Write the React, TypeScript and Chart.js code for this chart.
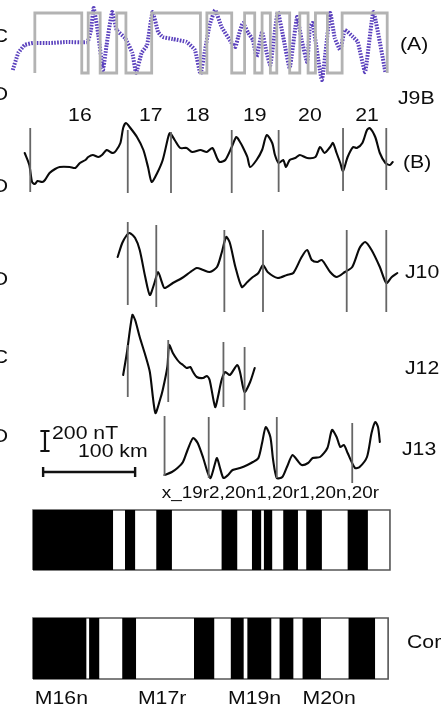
import React, { useEffect, useRef } from 'react';
import { Chart, registerables } from 'chart.js';
Chart.register(...registerables);

// ---- distances along the profiles are in km, anomalies in nT ----

// (A) synthetic anomaly of the reversal model
const synthKm = [-22,-16,-9,0,18,37,59,63,66,71,76,80,86,91,100,108,112,118,124,130,136,141,152,167,176,182,187,192,198,205,216,220,223,228,234,239,243,249,254,258,266,272,279,287,292,298,301,304,314,323,328,334,339,348,353,361,370,383];
const synthNT = [-270,-100,-20,0,0,10,10,130,350,80,-270,-20,310,130,50,-100,-300,-100,-20,310,110,60,40,10,-70,-310,-70,180,330,160,0,-40,60,200,100,30,-140,110,-100,-220,310,60,-250,260,30,-190,160,200,-370,300,50,-70,130,60,10,-290,310,-290];
// reversal boundaries of the model square wave (starts reversed)
const modelReversalKm = [2,53,60,73,91,101,129,182,189,216,230,241,249,258,265,279,290,299,307,320,336,385];

// (B) J9B
const j9bKm = [-9,-4,-1,2,5,10,13,18,24,29,40,46,51,57,60,65,71,75,80,84,87,90,95,98,101,105,113,120,125,129,135,141,147,149,154,160,167,173,182,189,195,200,203,209,216,221,225,228,233,236,243,249,254,260,263,267,272,275,279,285,290,298,307,312,317,323,326,330,334,337,342,348,352,358,363,366,372,377,383,388,391];
const j9bNT = [70,-50,-220,-240,-210,-220,-200,-130,-90,-70,-70,-80,-30,0,30,50,30,50,100,80,70,90,170,320,370,330,230,100,-70,-220,-130,0,230,270,200,120,120,80,100,80,120,20,-20,0,130,230,180,130,30,-70,0,100,250,170,50,-30,0,-70,0,20,50,20,30,130,70,130,170,70,-30,-110,30,130,120,170,300,320,230,70,-30,-50,-20];
const j9bPickKm = [-3,103,150,216,267,337,384];
const j9bPickTop = [320,300,280,300,300,320,320];
const j9bPickBottom = [-320,-330,-330,-330,-320,-310,-300];

// J10
const j10Km = [92,97,102,105,111,116,122,127,132,136,140,143,152,162,171,178,185,192,200,205,210,214,220,227,233,239,245,250,255,266,276,283,292,298,303,309,314,323,330,339,347,355,361,368,377,384,390,396];
const j10NT = [130,270,350,370,320,200,-70,-250,-130,-20,-120,-180,-130,-80,-20,20,0,-20,30,170,330,270,30,-170,-120,-70,-30,50,-20,-80,-50,-30,130,200,100,80,100,-20,-70,-20,30,220,280,200,30,-130,-70,-30];
const j10PickKm = [103,134,208,250,341,384];
const j10PickTop = [480,450,400,400,400,400];
const j10PickBottom = [-350,-370,-420,-420,-420,-420];

// J12
const j12Km = [98,102,108,111,116,122,127,133,138,141,146,148,152,157,160,163,167,171,174,178,185,189,192,198,201,205,209,214,222,225,230,236,241];
const j12NT = [-50,170,550,500,330,150,-20,-430,-300,-200,30,250,170,100,70,50,20,30,-20,-70,-80,-60,-100,-370,-270,-100,-20,-50,50,-20,-220,-120,20];
const j12PickKm = [103,147,207,230];
const j12PickTop = [250,300,280,230];
const j12PickBottom = [-270,-320,-370,-400];

// J13
const j13Km = [143,151,157,163,168,174,179,185,190,193,198,200,203,207,212,217,225,233,239,245,249,253,258,261,265,271,276,282,287,292,299,304,312,320,325,330,334,338,342,350,355,363,368,372,375,377];
const j13NT = [-100,-70,-30,30,150,270,220,70,-80,-130,20,70,-20,-130,-100,-50,-30,0,30,70,220,380,280,50,-130,-120,-20,100,50,0,20,70,80,170,350,280,180,200,120,-30,-20,80,320,430,380,230];
const j13PickKm = [143,191,265,347];
const j13PickTop = [490,480,480,420];
const j13PickBottom = [-110,-130,-130,-180];

// scale bars
const scaleBarNT = [140, 340];
const scaleBarNTKm = 13;
const scaleBarKm = [11, 111];
const scaleBarKmLevelNT = -70;

// polarity blocks (black = normal)
const row1Extent = [0, 388];
const row1BlackStart = [0,100,134,205,238,251,272,297,342];
const row1BlackEnd = [87,111,151,222,248,260,288,314,364];
const row2Extent = [0, 386];
const row2BlackStart = [0,61,97,175,215,233,268,293,343];
const row2BlackEnd = [58,72,112,197,229,259,283,313,372];

// labels
const chronLabels = ['16','17','18','19','20','21'];
const chronKm = [51,128,179,241,301,363];
const chronNames = ['M16n','M17r','M19n','M20n'];
const chronNameKm = [2,114,212,293];
const j13PickLabel = 'x_19r2,20n1,20r1,20n,20r';
const j13PickLabelKm = 140;

// ---- layout helpers ----
const W = 441, H = 710;
const KM_PX = 0.92;   // px per km
const KM_ORIGIN_PX = 33;
function frame(zeroPx: number, pxPerUnit: number) {
  return { min: (zeroPx - H) / pxPerUnit, max: zeroPx / pxPerUnit };
}
const hidden = (f: { min: number; max: number }) => ({ type: 'linear' as const, display: false, min: f.min, max: f.max });

const zip = (xs: number[], ys: number[]) => xs.map((x, i) => ({ x, y: ys[i] }));
const picks = (xs: number[], tops: number[], bots: number[]) => {
  const out: any[] = [];
  xs.forEach((x, i) => { out.push({ x, y: tops[i] }, { x, y: bots[i] }, { x, y: null }); });
  return out;
};
const squareWave = (bounds: number[]) => {
  const out: any[] = [];
  let p = -1;
  bounds.forEach((b) => { out.push({ x: b, y: p }); p = -p; out.push({ x: b, y: p }); });
  return out;
};
const blocks = (s: number[], e: number[]) => {
  const out: any[] = [];
  s.forEach((a, i) => { out.push({ x: a, y: 0 }, { x: a, y: 1 }, { x: e[i], y: 1 }, { x: e[i], y: 0 }); });
  return out;
};
const box = (ext: number[]) => [
  { x: ext[0], y: 0 }, { x: ext[0], y: 1 }, { x: ext[1], y: 1 }, { x: ext[1], y: 0 }, { x: ext[0], y: 0 },
];

const STRETCH = 1.18;
const FONT = '"Liberation Sans", Arial, Helvetica, sans-serif';
function txt(ctx: CanvasRenderingContext2D, s: string, x: number, y: number, size: number, align: CanvasTextAlign = 'left') {
  ctx.save();
  ctx.font = `${size}px ${FONT}`;
  ctx.fillStyle = '#0d0d0d';
  ctx.textBaseline = 'middle';
  ctx.textAlign = align;
  ctx.translate(x, y);
  ctx.scale(STRETCH, 1);
  ctx.fillText(s, 0, 0);
  ctx.restore();
}

const textPlugin = {
  id: 'figureText',
  afterDatasetsDraw(chart: any) {
    const ctx = chart.ctx as CanvasRenderingContext2D;
    const xs = chart.scales.x;
    // cut-off letters of the neighbouring column
    [['C', 37], ['D', 95], ['D', 187], ['D', 280], ['C', 358], ['D', 437]].forEach(([s, y]) =>
      txt(ctx, s as string, 8, y as number, 18, 'right'));
    txt(ctx, '(A)', 400, 45, 18);
    txt(ctx, 'J9B', 398, 99, 18);
    txt(ctx, '(B)', 403, 163, 18);
    txt(ctx, 'J10', 405, 273, 18);
    txt(ctx, 'J12', 405, 369, 18);
    txt(ctx, 'J13', 402, 450, 18);
    txt(ctx, 'Cor', 407, 643, 18);
    chronLabels.forEach((s, i) => txt(ctx, s, xs.getPixelForValue(chronKm[i]), 116, 18, 'center'));
    chronNames.forEach((s, i) => txt(ctx, s, xs.getPixelForValue(chronNameKm[i]), 699, 18, 'left'));
    txt(ctx, j13PickLabel, xs.getPixelForValue(j13PickLabelKm), 494, 16, 'left');
    txt(ctx, '200 nT', 52, 434, 18, 'left');
    txt(ctx, '100 km', 78, 452, 18, 'left');
  },
};

export default function App() {
  const ref = useRef<HTMLCanvasElement>(null);
  useEffect(() => {
    document.body.style.margin = '0';
    const traceStyle = { borderColor: '#0a0a0a', borderWidth: 2.1, pointRadius: 0, tension: 0.25, fill: false, borderJoinStyle: 'round' as const, borderCapStyle: 'round' as const };
    const pickStyle = { borderColor: '#666', borderWidth: 1.8, pointRadius: 0, tension: 0, fill: false, spanGaps: false };
    const blockOutline = { borderColor: '#555', borderWidth: 1.6, pointRadius: 0, tension: 0, fill: false };
    const chart = new Chart(ref.current!, {
      type: 'line',
      data: {
        datasets: [
          { data: squareWave(modelReversalKm), yAxisID: 'yPol', borderColor: '#b3b3b3', borderWidth: 2.8, pointRadius: 0, tension: 0, fill: false },
          { data: zip(synthKm, synthNT), yAxisID: 'yA', borderColor: '#5a40bd', borderWidth: 4, borderDash: [1.6, 1.3], pointRadius: 0, tension: 0.12, fill: false },
          { data: picks(j9bPickKm, j9bPickTop, j9bPickBottom), yAxisID: 'yB', ...pickStyle },
          { data: zip(j9bKm, j9bNT), yAxisID: 'yB', ...traceStyle },
          { data: picks(j10PickKm, j10PickTop, j10PickBottom), yAxisID: 'yJ10', ...pickStyle },
          { data: zip(j10Km, j10NT), yAxisID: 'yJ10', ...traceStyle },
          { data: picks(j12PickKm, j12PickTop, j12PickBottom), yAxisID: 'yJ12', ...pickStyle },
          { data: zip(j12Km, j12NT), yAxisID: 'yJ12', ...traceStyle },
          { data: picks(j13PickKm, j13PickTop, j13PickBottom), yAxisID: 'yJ13', ...pickStyle },
          { data: zip(j13Km, j13NT), yAxisID: 'yJ13', ...traceStyle },
          // 200 nT bar
          { data: [
              { x: scaleBarNTKm - 5, y: scaleBarNT[1] }, { x: scaleBarNTKm + 5, y: scaleBarNT[1] }, { x: null as any, y: null },
              { x: scaleBarNTKm, y: scaleBarNT[1] }, { x: scaleBarNTKm, y: scaleBarNT[0] }, { x: null as any, y: null },
              { x: scaleBarNTKm - 5, y: scaleBarNT[0] }, { x: scaleBarNTKm + 5, y: scaleBarNT[0] },
            ], yAxisID: 'yJ13', borderColor: '#111', borderWidth: 2.2, pointRadius: 0, tension: 0, fill: false, spanGaps: false },
          // 100 km bar
          { data: [
              { x: scaleBarKm[0], y: scaleBarKmLevelNT + 50 }, { x: scaleBarKm[0], y: scaleBarKmLevelNT - 50 }, { x: null as any, y: null },
              { x: scaleBarKm[0], y: scaleBarKmLevelNT }, { x: scaleBarKm[1], y: scaleBarKmLevelNT }, { x: null as any, y: null },
              { x: scaleBarKm[1], y: scaleBarKmLevelNT + 50 }, { x: scaleBarKm[1], y: scaleBarKmLevelNT - 50 },
            ], yAxisID: 'yJ13', borderColor: '#111', borderWidth: 2.4, pointRadius: 0, tension: 0, fill: false, spanGaps: false },
          // polarity rows
          { data: blocks(row1BlackStart, row1BlackEnd), yAxisID: 'yR1', borderWidth: 0, borderColor: 'rgba(0,0,0,0)', backgroundColor: '#000', fill: { value: 0 }, pointRadius: 0, tension: 0 },
          { data: box(row1Extent), yAxisID: 'yR1', ...blockOutline },
          { data: blocks(row2BlackStart, row2BlackEnd), yAxisID: 'yR2', borderWidth: 0, borderColor: 'rgba(0,0,0,0)', backgroundColor: '#000', fill: { value: 0 }, pointRadius: 0, tension: 0 },
          { data: box(row2Extent), yAxisID: 'yR2', ...blockOutline },
        ] as any,
      },
      options: {
        animation: false,
        responsive: false,
        events: [],
        layout: { padding: 0 },
        plugins: { legend: { display: false }, tooltip: { enabled: false } },
        scales: {
          x: { type: 'linear', display: false, min: -KM_ORIGIN_PX / KM_PX, max: (W - KM_ORIGIN_PX) / KM_PX },
          yPol: hidden(frame(43, 30)),
          yA: hidden(frame(43, 0.1)),
          yB: hidden(frame(160, 0.1)),
          yJ10: hidden(frame(270, 0.1)),
          yJ12: hidden(frame(370, 0.1)),
          yJ13: hidden(frame(465, 0.1)),
          yR1: hidden(frame(570, 60)),
          yR2: hidden(frame(679, 61)),
        },
      } as any,
      plugins: [textPlugin],
    });
    return () => chart.destroy();
  }, []);
  return (
    <div style={{ width: W, height: H, background: '#fff' }}>
      <canvas ref={ref} width={W} height={H} style={{ display: 'block', width: W, height: H }} />
    </div>
  );
}
